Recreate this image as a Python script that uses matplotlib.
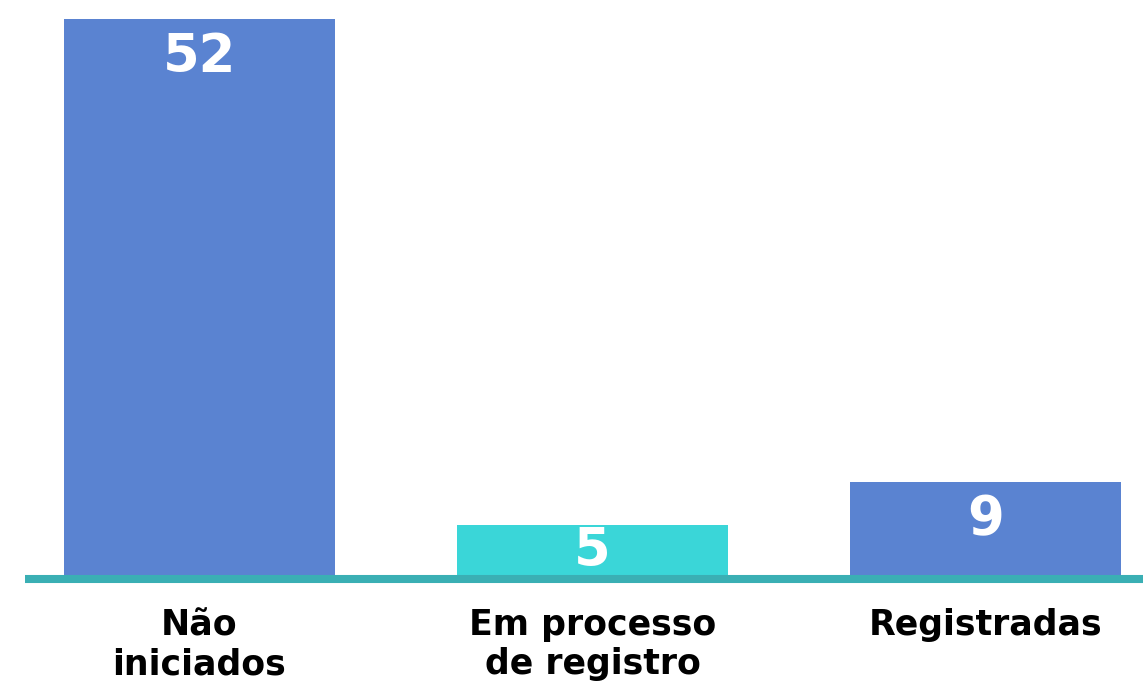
import matplotlib
matplotlib.use('Agg')
import matplotlib.pyplot as plt

# dados do gráfico
categorias = ['Não\niniciados', 'Em processo\nde registro', 'Registradas']
valores = [52, 5, 9]
cores = ['#5A83D1', '#3AD6D8', '#5A83D1']

plt.rcParams['font.family'] = ['DejaVu Sans']

fig = plt.figure(figsize=(11.43, 6.81), dpi=100)
ax = fig.add_axes([25 / 1143, 102 / 681, 1 - 25 / 1143, 1 - 102 / 681])

x = range(len(valores))
ax.bar(x, valores, width=0.69, color=cores, zorder=2)
# linha de base (fora do clip para não cortar a metade inferior)
ax.axhline(0, color='#3AAFB4', linewidth=5.8, zorder=3, clip_on=False,
           solid_capstyle='butt')

# rótulos de valor dentro das barras
for xi, v in zip(x, valores):
    ax.text(xi, v - min(3.5, v * 0.48), str(v), ha='center', va='center',
            color='white', fontsize=38, fontweight='bold', zorder=4)

ax.set_xlim(-0.444, 2.401)
ax.set_ylim(0, 53.76)
ax.set_xticks(list(x))
ax.set_xticklabels(categorias, fontsize=25, fontweight='bold', color='black',
                   linespacing=1.18)
ax.tick_params(axis='x', length=0, pad=21)
ax.set_yticks([])
for s in ax.spines.values():
    s.set_visible(False)

fig.savefig('out.png', dpi=100)
